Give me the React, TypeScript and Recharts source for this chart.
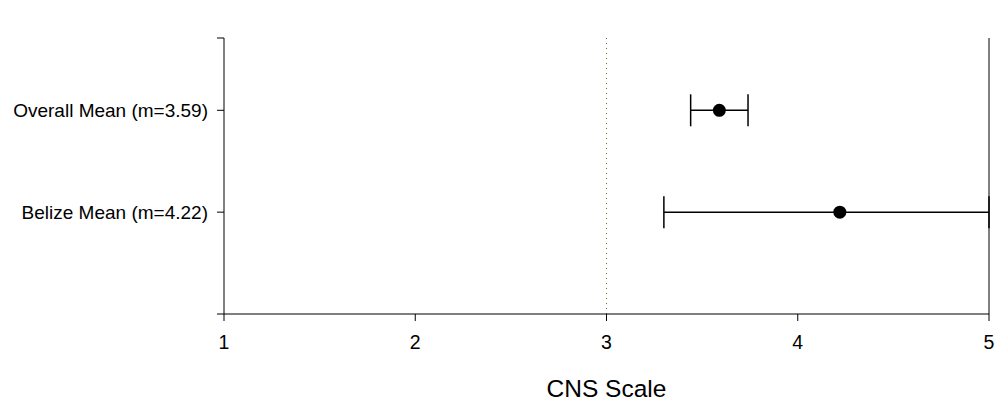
import { ComposedChart, Scatter, ErrorBar, XAxis, YAxis, ReferenceLine, Label } from 'recharts'

const labels = ['Belize Mean (m=4.22)', 'Overall Mean (m=3.59)']
const slots = [1, 2]
const means = [4.22, 3.59]
const lowErr = [0.92, 0.15]
const highErr = [0.78, 0.15]
const xTicks = [1, 2, 3, 4, 5]
const yTop = 2.71

const rows = slots.map((y, i) => ({ y, x: means[i], err: [lowErr[i], highErr[i]] }))

const font = '"Liberation Sans", Arial, sans-serif'

const App = () => {
    return (
        <div style={{ position: 'absolute', left: 0, top: 0, background: '#fff' }}>
            <ComposedChart width={997} height={402} data={rows} margin={{ top: 38, right: 8, left: 0, bottom: 0 }}>
                <XAxis
                    type="number"
                    dataKey="x"
                    domain={[1, 5]}
                    ticks={xTicks}
                    stroke="#000"
                    tickSize={7}
                    tickMargin={14}
                    tick={{ fill: '#000', fontSize: 19.5, fontFamily: font }}
                    height={88}
                >
                    <Label value="CNS Scale" position="insideBottom" offset={5} style={{ fill: '#000', fontSize: 24.5, fontFamily: font }} />
                </XAxis>
                <YAxis
                    type="number"
                    dataKey="y"
                    domain={[0, yTop]}
                    ticks={[0, ...slots, yTop]}
                    stroke="#000"
                    width={224}
                    tickSize={7}
                    tickMargin={9}
                    tick={{ fill: '#000', fontSize: 19, fontFamily: font }}
                    tickFormatter={(v: number) => {
                        const i = slots.indexOf(v)
                        return i >= 0 ? labels[i] : ''
                    }}
                />
                <ReferenceLine x={3} stroke="#4f7d2e" strokeDasharray="1 4" />
                <ReferenceLine x={5} stroke="#000" />
                <Scatter dataKey="x" fill="#000" isAnimationActive={false} shape={(p: any) => <circle cx={p.cx} cy={p.cy} r={6.5} fill="#000" />}>
                    <ErrorBar dataKey="err" direction="x" width={16} stroke="#000" strokeWidth={1.5} />
                </Scatter>
            </ComposedChart>
        </div>
    )
}

export default App
